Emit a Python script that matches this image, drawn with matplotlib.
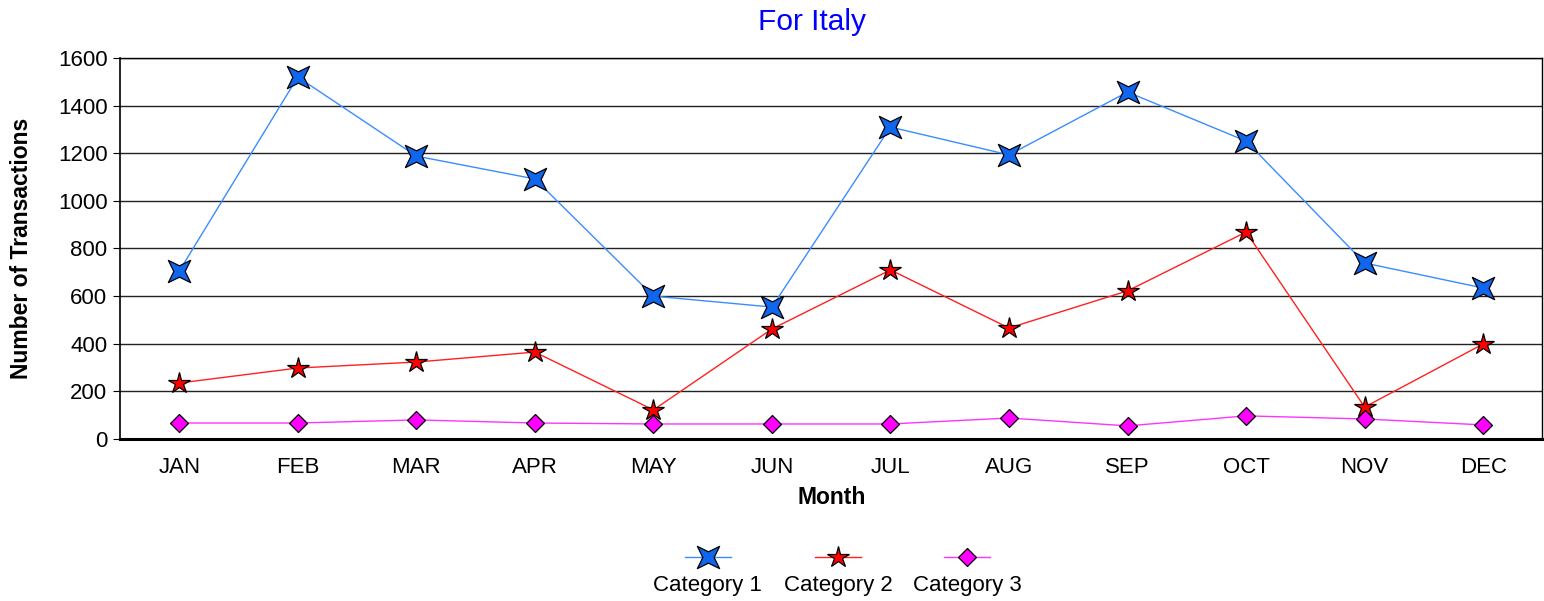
import matplotlib
matplotlib.use("Agg")
import matplotlib.pyplot as plt
from matplotlib.path import Path
from matplotlib.lines import Line2D
import numpy as np

plt.rcParams['font.family'] = ['Liberation Sans', 'DejaVu Sans']

months = ["JAN", "FEB", "MAR", "APR", "MAY", "JUN", "JUL", "AUG", "SEP", "OCT", "NOV", "DEC"]
cat1 = [705, 1520, 1188, 1092, 600, 554, 1310, 1193, 1457, 1251, 739, 634]
cat2 = [235, 298, 323, 365, 122, 462, 710, 466, 622, 869, 134, 399]
cat3 = [67, 67, 80, 67, 63, 63, 63, 88, 55, 97, 84, 59]
names = ["Category 1", "Category 2", "Category 3"]

# four pointed star, points on the diagonals
ang = np.arange(8) * np.pi / 4 + np.pi / 4
rad = np.array([1, 0.36] * 4)
verts = np.column_stack([rad * np.cos(ang), rad * np.sin(ang)])
verts = np.vstack([verts, verts[0]])
codes = [Path.MOVETO] + [Path.LINETO] * 7 + [Path.CLOSEPOLY]
star4 = Path(verts, codes)

styles = [
    dict(color="#3a8cff", marker=star4, markersize=16, markerfacecolor="#1166ee"),
    dict(color="#ff2020", marker="*", markersize=16, markerfacecolor="#ff0000"),
    dict(color="#ff33ff", marker="D", markersize=9, markerfacecolor="#ff00ff"),
]

fig = plt.figure(figsize=(15.44, 6.01), dpi=100)
ax = fig.add_axes([0.0777, 0.2696, 0.9213, 0.6339])

x = np.arange(len(months))
for vals, st in zip([cat1, cat2, cat3], styles):
    ax.plot(x, vals, linewidth=1, markeredgecolor="black", markeredgewidth=0.9, **st)

ax.set_xlim(-0.5, 11.5)
ax.set_ylim(0, 1600)
ax.set_yticks(range(0, 1601, 200))
ax.set_xticks(x)
ax.set_xticklabels(months)
ax.tick_params(axis="x", labelsize=16, length=0, pad=13)
ax.tick_params(axis="y", labelsize=16, length=5, direction="out", pad=4)
ax.yaxis.grid(True, color="#222222", linewidth=1)
ax.set_axisbelow(True)
for s in ["top", "right"]:
    ax.spines[s].set_linewidth(1)
ax.spines["bottom"].set_linewidth(2.2)
ax.spines["left"].set_linewidth(1.2)

ax.set_xlabel("Month", fontsize=16.5, fontweight="bold", labelpad=6)
ax.set_ylabel("Number of Transactions", fontsize=16.5, fontweight="bold", labelpad=18)
fig.text(0.526, 0.963, "For Italy", color="#0000ff", fontsize=21.5, ha="center", va="center")

# legend: marker above label
lx = [0.4585, 0.5427, 0.6263]
for px, st, nm in zip(lx, styles, names):
    fig.add_artist(Line2D([px - 0.015, px, px + 0.015], [0.073] * 3, transform=fig.transFigure,
                          linewidth=1, markeredgecolor="black", markeredgewidth=0.9,
                          markevery=[1], **st))
    fig.text(px, 0.025, nm, fontsize=16, ha="center", va="center")

fig.savefig("out.png", dpi=100)
